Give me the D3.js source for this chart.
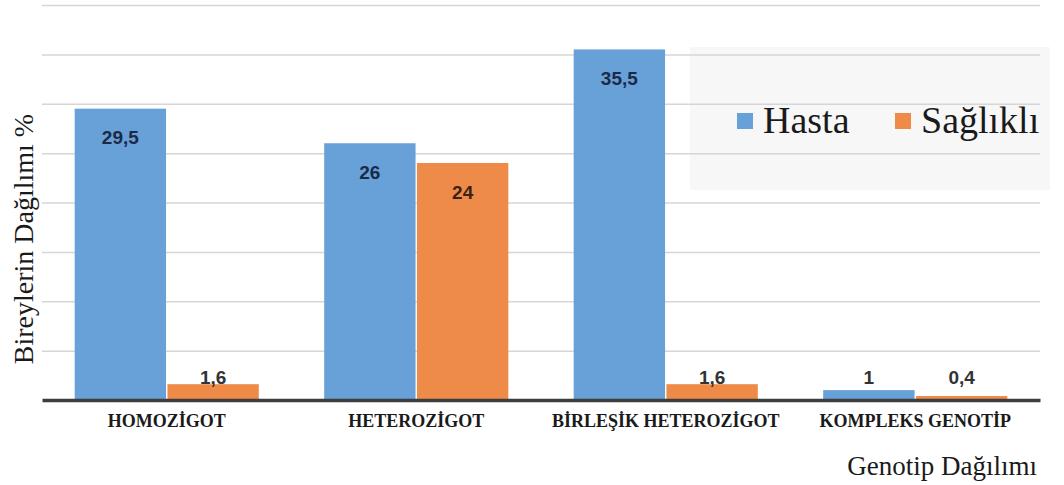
<!DOCTYPE html>
<html>
<head>
<meta charset="utf-8">
<script src="https://cdn.jsdelivr.net/npm/d3@7"></script>
<style>
  html, body { margin: 0; padding: 0; background: #fff; }
  svg { display: block; }
</style>
</head>
<body>
<svg id="chart" width="1064" height="485"></svg>
<script>
// Genotype distribution of patients vs. healthy individuals (%)
const categories = ["HOMOZİGOT", "HETEROZİGOT", "BİRLEŞİK HETEROZİGOT", "KOMPLEKS GENOTİP"];
const seriesNames = ["Hasta", "Sağlıklı"];
const hasta = [29.5, 26, 35.5, 1];
const saglikli = [1.6, 24, 1.6, 0.4];
const valueLabels = [["29,5", "26", "35,5", "1"], ["1,6", "24", "1,6", "0,4"]];
const yTicks = [0, 5, 10, 15, 20, 25, 30, 35, 40];

const colors = ["#68a1d8", "#ef8b48"];
const labelColors = ["#1c2a47", "#3a2416"];

const svg = d3.select("#chart");
const plot = { left: 42, right: 1040, top: 5, bottom: 400 };

const y = d3.scaleLinear().domain([0, 40]).range([plot.bottom, plot.top]);
const x0 = d3.scaleBand().domain(categories).range([plot.left, plot.right])
  .paddingInner(0.262).paddingOuter(0.131);
const x1 = d3.scaleBand().domain(seriesNames).range([0, x0.bandwidth()]).paddingInner(0.015);

// Legend backdrop
svg.append("rect")
  .attr("x", 690).attr("y", 47).attr("width", 360).attr("height", 143)
  .attr("fill", "#f7f7f7");

// Horizontal gridlines
const yAxis = d3.axisLeft(y).tickValues(yTicks.slice(1)).tickSize(-(plot.right - plot.left)).tickFormat("");
svg.append("g")
  .attr("transform", `translate(${plot.left},0)`)
  .call(yAxis)
  .call(g => g.select(".domain").remove())
  .call(g => g.selectAll(".tick line").attr("stroke", "#d6d6d6").attr("stroke-width", 1.5));

// Bars
const data = categories.map((c, i) => ({ cat: c, vals: [hasta[i], saglikli[i]] }));
const groups = svg.append("g").selectAll("g").data(data).join("g")
  .attr("transform", d => `translate(${x0(d.cat)},0)`);

groups.selectAll("rect")
  .data(d => d.vals.map((v, s) => ({ v, s })))
  .join("rect")
  .attr("x", d => x1(seriesNames[d.s]))
  .attr("width", x1.bandwidth())
  .attr("y", d => y(d.v))
  .attr("height", d => y(0) - y(d.v))
  .attr("fill", d => colors[d.s]);

// Value labels: inside the top of tall bars, above the axis for short ones
groups.selectAll("text")
  .data((d, i) => d.vals.map((v, s) => ({ v, s, label: valueLabels[s][i] })))
  .join("text")
  .attr("x", d => x1(seriesNames[d.s]) + x1.bandwidth() / 2)
  .attr("y", d => (y(0) - y(d.v) > 40) ? y(d.v) + 29 : y(0) - 23)
  .attr("dy", "0.35em")
  .attr("text-anchor", "middle")
  .attr("font-family", "'Liberation Sans', Arial, sans-serif")
  .attr("font-weight", "bold")
  .attr("font-size", 19)
  .attr("fill", d => (y(0) - y(d.v) > 40) ? labelColors[d.s] : "#333")
  .text(d => d.label);

// Category axis
const xAxis = d3.axisBottom(x0).tickSize(0).tickPadding(0);
svg.append("g")
  .attr("transform", `translate(0,${plot.bottom})`)
  .call(xAxis)
  .call(g => g.select(".domain").attr("stroke", "#3d3d3d").attr("stroke-width", 3.5))
  .call(g => g.selectAll(".tick text")
    .attr("y", 27)
    .attr("dy", 0)
    .attr("font-family", "'Liberation Serif', 'Times New Roman', serif")
    .attr("font-weight", "bold")
    .attr("font-size", 18)
    .attr("fill", "#1a1a1a"));

// Axis titles
svg.append("text")
  .attr("transform", "translate(33,239) rotate(-90)")
  .attr("text-anchor", "middle")
  .attr("font-family", "'Liberation Serif', 'Times New Roman', serif")
  .attr("font-size", 28)
  .attr("fill", "#1a1a1a")
  .text("Bireylerin Dağılımı %");

svg.append("text")
  .attr("x", 1037).attr("y", 475)
  .attr("text-anchor", "end")
  .attr("font-family", "'Liberation Serif', 'Times New Roman', serif")
  .attr("font-size", 27)
  .attr("fill", "#1a1a1a")
  .text("Genotip Dağılımı");

// Legend
const legendX = [737, 895];
const legend = svg.append("g").selectAll("g").data(seriesNames).join("g")
  .attr("transform", (d, i) => `translate(${legendX[i]},0)`);
legend.append("rect")
  .attr("x", 0).attr("y", 113).attr("width", 16).attr("height", 16)
  .attr("fill", (d, i) => colors[i]);
legend.append("text")
  .attr("x", 26).attr("y", 133)
  .attr("font-family", "'Liberation Serif', 'Times New Roman', serif")
  .attr("font-size", 38)
  .attr("fill", "#1a1a1a")
  .text(d => d);
</script>
</body>
</html>
